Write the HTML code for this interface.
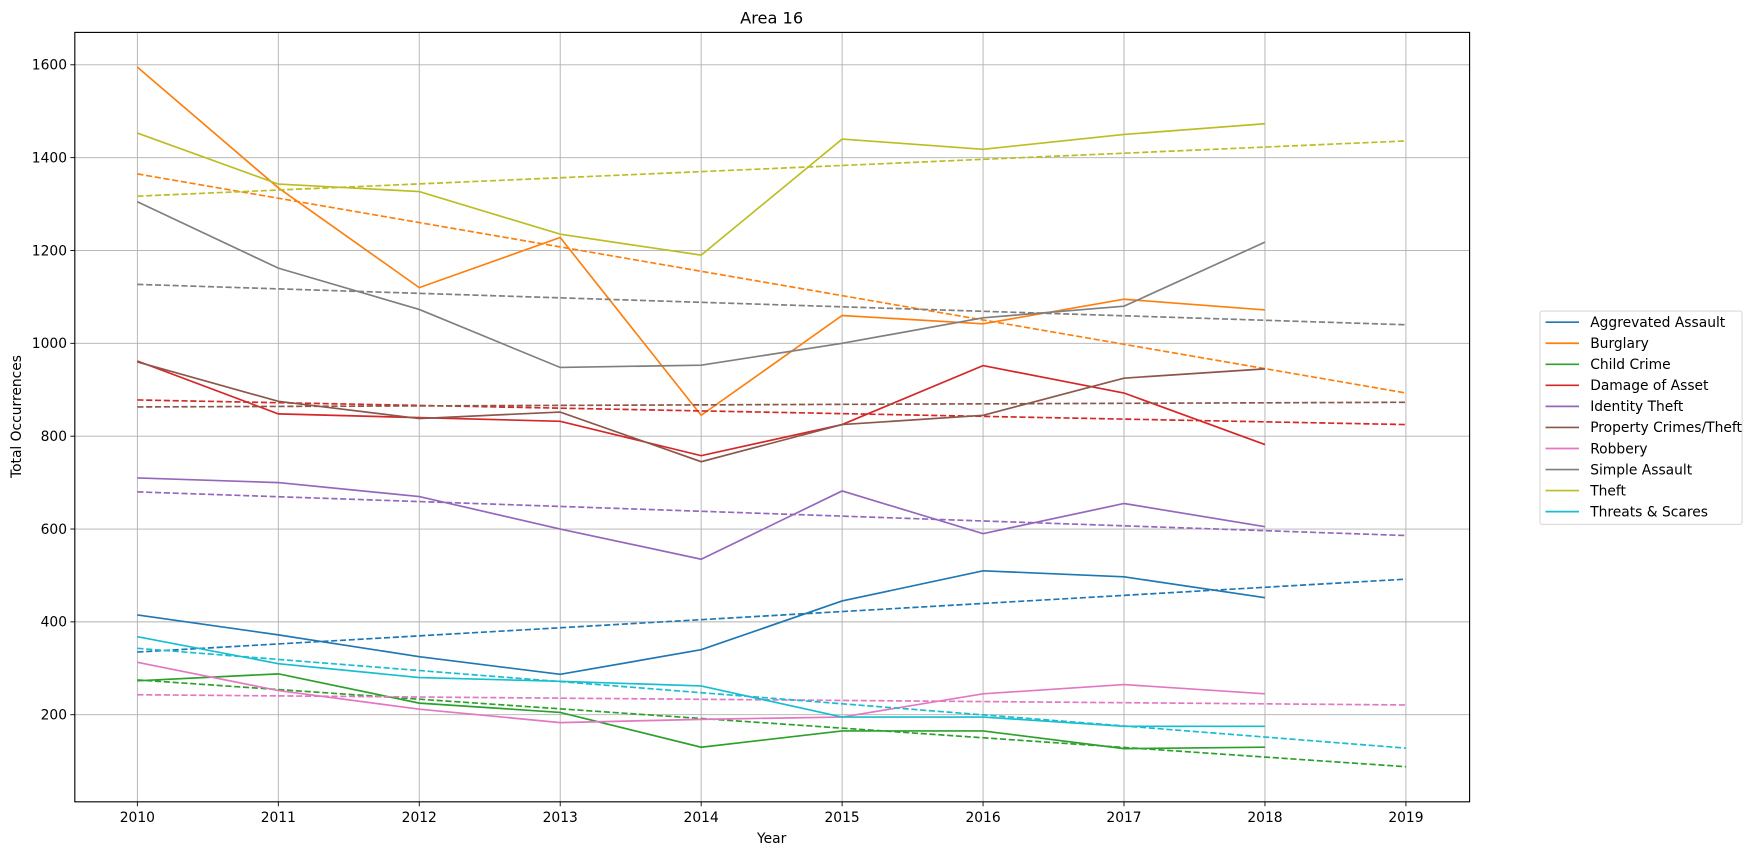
<!DOCTYPE html>
<html><head><meta charset="utf-8"><style>
html,body{margin:0;padding:0;background:#fff;}
svg{display:block;font-family:"DejaVu Sans","Liberation Sans",sans-serif;}
</style></head><body>
<svg id="chart" width="1751" height="855" viewBox="0 0 1568 765.6">
<rect width="1568" height="765.6" fill="#fff"/>
<g id="grid"></g>
<g id="series"></g>
<rect x="67" y="29" width="1249" height="689" fill="none" stroke="#000" stroke-width="1"/>
<g id="axes"></g>
<text x="691" y="21" font-size="14.5" text-anchor="middle">Area 16</text>
<text x="691" y="755" font-size="12.4" text-anchor="middle">Year</text>
<text transform="translate(19,373) rotate(-90)" font-size="12.4" text-anchor="middle">Total Occurrences</text>
<g id="legend"></g>
</svg>
<script>
const years=[2010,2011,2012,2013,2014,2015,2016,2017,2018];
const trendYears=[2010,2019];
const names=["Aggrevated Assault","Burglary","Child Crime","Damage of Asset","Identity Theft","Property Crimes/Theft","Robbery","Simple Assault","Theft","Threats & Scares"];
const colors=["#1f77b4","#ff7f0e","#2ca02c","#d62728","#9467bd","#8c564b","#e377c2","#7f7f7f","#bcbd22","#17becf"];
const aggravated=[415,372,325,287,340,445,510,497,452];
const burglary=[1595,1335,1120,1228,845,1060,1042,1095,1072];
const childCrime=[273,288,225,205,130,165,165,127,130];
const damage=[962,848,840,832,758,825,952,893,782];
const identity=[710,700,670,600,535,682,590,655,605];
const property=[960,875,838,852,745,825,845,925,945];
const robbery=[313,252,212,183,190,195,245,265,245];
const simple=[1305,1162,1073,948,953,1000,1055,1080,1218];
const theft=[1453,1343,1327,1235,1190,1440,1418,1450,1473];
const threats=[368,310,280,272,262,195,195,175,175];
const trendAggravated=[335,492];
const trendBurglary=[1365,893];
const trendChild=[275,88];
const trendDamage=[878,825];
const trendIdentity=[680,586];
const trendProperty=[863,873];
const trendRobbery=[243,221];
const trendSimple=[1127,1040];
const trendTheft=[1317,1436];
const trendThreats=[343,128];
const xTicks=[2010,2011,2012,2013,2014,2015,2016,2017,2018,2019];
const yTicks=[200,400,600,800,1000,1200,1400,1600];
const series=[aggravated,burglary,childCrime,damage,identity,property,robbery,simple,theft,threats];
const trends=[trendAggravated,trendBurglary,trendChild,trendDamage,trendIdentity,trendProperty,trendRobbery,trendSimple,trendTheft,trendThreats];
const NS="http://www.w3.org/2000/svg";
const X=y=>123+(y-2010)*126.22;
const Y=v=>640-(v-200)*(582/1400);
function mk(t,a,p){const e=document.createElementNS(NS,t);for(const k in a)e.setAttribute(k,a[k]);p.appendChild(e);return e;}
const grid=document.getElementById('grid'),axes=document.getElementById('axes'),sg=document.getElementById('series'),lg=document.getElementById('legend');
xTicks.forEach(t=>{
 const l=mk('line',{x1:X(t),x2:X(t),y1:29,y2:718,stroke:'#b0b0b0','stroke-width':0.8},grid);
 
 
 mk('line',{x1:X(t),x2:X(t),y1:718,y2:722,stroke:'#000','stroke-width':0.8},axes);
 const tx=mk('text',{x:X(t),y:736,'font-size':12.4,'text-anchor':'middle'},axes);tx.textContent=t;
 
 
});
yTicks.forEach(t=>{
 const l=mk('line',{x1:67,x2:1316,y1:Y(t),y2:Y(t),stroke:'#b0b0b0','stroke-width':0.8},grid);
 
 
 mk('line',{x1:63,x2:67,y1:Y(t),y2:Y(t),stroke:'#000','stroke-width':0.8},axes);
 const tx=mk('text',{x:60,y:Y(t)+4.3,'font-size':12.4,'text-anchor':'end'},axes);tx.textContent=t;
 
 
});
series.forEach((s,i)=>{
 const p=mk('polyline',{points:s.map((v,j)=>X(years[j])+','+Y(v)).join(' '),fill:'none',stroke:colors[i],'stroke-width':1.5},sg);
 
 
 const t=trends[i];
 const d=mk('polyline',{points:t.map((v,j)=>X(trendYears[j])+','+Y(v)).join(' '),fill:'none',stroke:colors[i],'stroke-width':1.5,'stroke-dasharray':'5.5,2.4'},sg);
 
 
});
const box=mk('rect',{x:1379,y:278.5,width:181,height:191,rx:2,fill:'#fff',stroke:'#d0d0d0','stroke-width':0.8},lg);


names.forEach((n,i)=>{
 const y=288.5+i*18.85;
 mk('line',{x1:1384,x2:1414,y1:y,y2:y,stroke:colors[i],'stroke-width':1.5},lg);
 const t=mk('text',{x:1424,y:y+4.3,'font-size':12.4},lg);t.textContent=n;
 
 
});
</script>
</body></html>
